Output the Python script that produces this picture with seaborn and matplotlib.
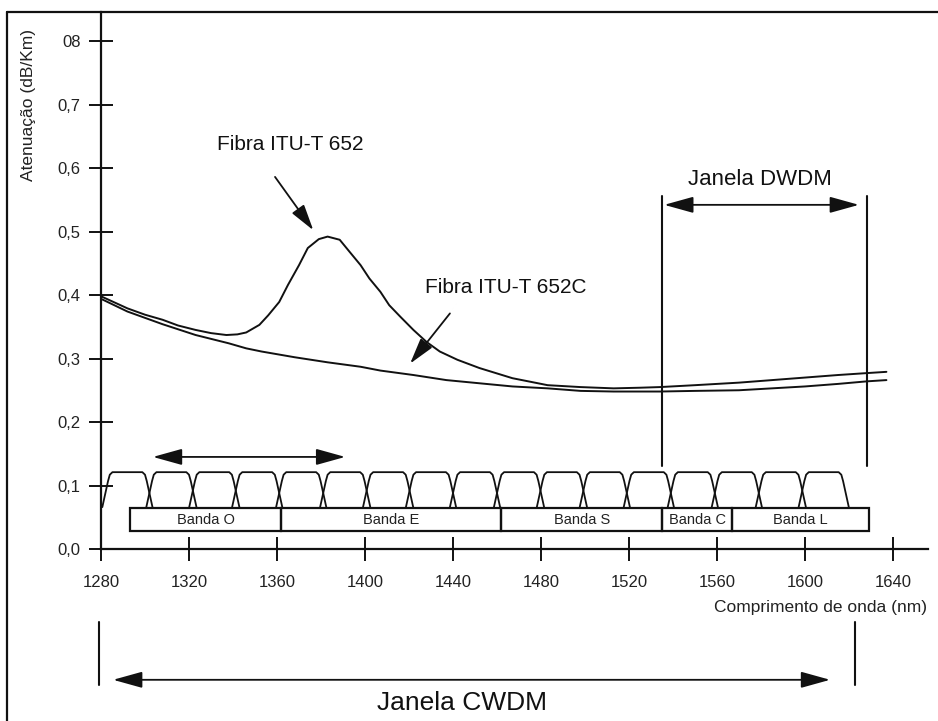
import numpy as np
import pandas as pd
import matplotlib
matplotlib.use("Agg")
import matplotlib.pyplot as plt
from matplotlib.lines import Line2D
import seaborn as sns

# ---------------- data ----------------
wl_652 = [1280, 1292, 1300, 1308, 1315, 1323, 1330, 1337, 1342, 1346, 1352, 1356, 1361, 1365,
          1370, 1374, 1379, 1383, 1388.5, 1393, 1398, 1402, 1407, 1411, 1416, 1422, 1428, 1434,
          1442, 1452, 1467, 1483, 1498, 1513, 1525, 1534, 1550, 1570, 1585, 1600, 1615, 1628, 1637]
att_652 = [0.398, 0.379, 0.369, 0.361, 0.352, 0.345, 0.340, 0.337, 0.338, 0.341, 0.353, 0.368, 0.389, 0.416,
           0.447, 0.474, 0.488, 0.492, 0.487, 0.468, 0.447, 0.426, 0.405, 0.384, 0.366, 0.345, 0.326, 0.311,
           0.298, 0.285, 0.269, 0.258, 0.255, 0.253, 0.254, 0.255, 0.258, 0.262, 0.266, 0.270, 0.274, 0.277, 0.279]

wl_652c = [1280, 1292, 1308, 1323, 1338, 1346, 1353, 1368, 1383, 1398, 1407, 1422, 1437,
           1452, 1467, 1483, 1498, 1513, 1534, 1550, 1570, 1585, 1600, 1615, 1628, 1637]
att_652c = [0.394, 0.374, 0.354, 0.337, 0.324, 0.316, 0.311, 0.302, 0.294, 0.287, 0.281, 0.274, 0.266,
            0.261, 0.256, 0.253, 0.249, 0.248, 0.248, 0.249, 0.250, 0.253, 0.256, 0.260, 0.264, 0.266]

channel_centers = [1292, 1312, 1331.5, 1351, 1371, 1391, 1410.5, 1430, 1450, 1470,
                   1489.5, 1509, 1529, 1549, 1569, 1589, 1608.5]

band_names = ["Banda O", "Banda E", "Banda S", "Banda C", "Banda L"]
band_edges = [1293, 1362, 1462, 1535, 1567, 1629]

x_ticks = [1280, 1320, 1360, 1400, 1440, 1480, 1520, 1560, 1600, 1640]
y_ticks = [0.0, 0.1, 0.2, 0.3, 0.4, 0.5, 0.6, 0.7, 0.8]
y_tick_labels = ["0,0", "0,1", "0,2", "0,3", "0,4", "0,5", "0,6", "0,7", "08"]

dwdm_limits = [1535, 1628]
cwdm_limits = [1279, 1622.7]

# ---------------- styling / shape parameters ----------------
ch_offsets = [-11.4, -8.8, -8.0, -6.8, 6.8, 8.0, 8.8, 11.4]
ch_levels = [0.066, 0.107, 0.117, 0.121, 0.121, 0.117, 0.107, 0.066]
box_bottom, box_top = 0.029, 0.065

sns.set_theme(style="white")
plt.rcParams["font.family"] = ["Liberation Sans", "DejaVu Sans"]
INK = "#111111"

fig = plt.figure(figsize=(9.38, 7.21), dpi=100)
ax = fig.add_axes([101 / 938, (721 - 549) / 721, (928 - 101) / 938, (549 - 12) / 721])
ax.set_facecolor("white")

sns.lineplot(x=wl_652, y=att_652, color=INK, linewidth=1.4, ax=ax, sort=False)
sns.lineplot(x=wl_652c, y=att_652c, color=INK, linewidth=1.4, ax=ax, sort=False)

# CWDM channel filters
for c in channel_centers:
    ax.plot([c + o for o in ch_offsets], ch_levels, color=INK, linewidth=1.3)

# band boxes
lefts = band_edges[:-1]
widths = [b - a for a, b in zip(band_edges[:-1], band_edges[1:])]
ax.bar(lefts, [box_top - box_bottom] * len(lefts), width=widths, bottom=box_bottom,
       align="edge", fill=False, edgecolor=INK, linewidth=1.6)
for name, a, b in zip(band_names, band_edges[:-1], band_edges[1:]):
    ax.text((a + b) / 2, (box_top + box_bottom) / 2 - 0.002, name, ha="center", va="center",
            fontsize=10.5, color="#222222")

arrow_kw = dict(arrowstyle="<|-|>,head_length=1.8,head_width=0.5", color=INK,
                linewidth=1.3, mutation_scale=10, shrinkA=0, shrinkB=0)
single_kw = dict(arrowstyle="-|>,head_length=1.6,head_width=0.45", color=INK,
                 linewidth=1.3, mutation_scale=10, shrinkA=0, shrinkB=0)

# upper double arrow over channels
ax.annotate("", xy=(1391, 0.145), xytext=(1303.6, 0.145), arrowprops=arrow_kw)

# DWDM window
for x in dwdm_limits:
    ax.plot([x, x], [0.131, 0.556], color=INK, linewidth=1.5)
ax.annotate("", xy=(1624.5, 0.542), xytext=(1536, 0.542), arrowprops=arrow_kw)
ax.text(1579.5, 0.573, "Janela DWDM", ha="center", va="baseline", fontsize=16, color=INK)

# CWDM window (below the axis)
for x in cwdm_limits:
    ax.plot([x, x], [-0.115, -0.214], color=INK, linewidth=1.5, clip_on=False)
ax.annotate("", xy=(1611.4, -0.206), xytext=(1285.5, -0.206), arrowprops=arrow_kw,
            annotation_clip=False)
ax.text(1443.9, -0.2535, "Janela CWDM", ha="center", va="baseline", fontsize=19, color=INK)

# fibre labels
ax.text(1366, 0.628, "Fibra ITU-T 652", ha="center", va="baseline", fontsize=15, color=INK)
ax.annotate("", xy=(1376.5, 0.502), xytext=(1359.1, 0.586), arrowprops=single_kw)
ax.text(1464, 0.403, "Fibra ITU-T 652C", ha="center", va="baseline", fontsize=15, color=INK)
ax.annotate("", xy=(1420.5, 0.292), xytext=(1438.6, 0.371), arrowprops=single_kw)

# axes
ax.set_xlim(1280, 1655.9)
ax.set_ylim(0, 0.8457)
ax.set_xticks(x_ticks)
ax.set_xticklabels([str(v) for v in x_ticks], fontsize=12, color="#222222")
ax.set_yticks(y_ticks)
ax.set_yticklabels(y_tick_labels, fontsize=12, color="#222222")
ax.tick_params(axis="both", direction="inout", length=17, width=1.4, color=INK,
               bottom=True, left=True)
ax.tick_params(axis="x", pad=10)
ax.tick_params(axis="y", pad=6)
for s in ["top", "right"]:
    ax.spines[s].set_visible(False)
for s in ["left", "bottom"]:
    ax.spines[s].set_color(INK)
    ax.spines[s].set_linewidth(1.6)
ax.set_xlabel("")
ax.set_ylabel("")

ax.text(1655.5, -0.099, "Comprimento de onda (nm)", ha="right", va="baseline",
        fontsize=12.5, color="#222222", clip_on=False)
ax.text(1247, 0.699, "Atenuação (dB/Km)", rotation=90, ha="center", va="center",
        fontsize=12.5, color="#222222", clip_on=False)

# outer frame (left and top)
fig.add_artist(Line2D([7 / 938, 7 / 938], [0, (721 - 12) / 721], transform=fig.transFigure,
                      color=INK, linewidth=1.6))
fig.add_artist(Line2D([7 / 938, 1], [(721 - 12) / 721, (721 - 12) / 721], transform=fig.transFigure,
                      color=INK, linewidth=1.6))

fig.savefig("out.png", dpi=100, facecolor="white")
